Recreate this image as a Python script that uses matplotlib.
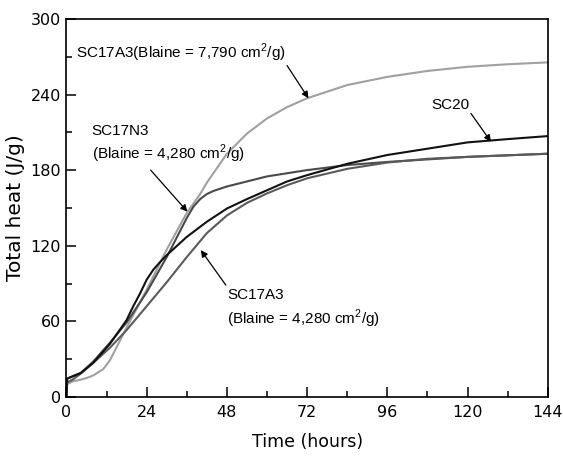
import numpy as np
import matplotlib.pyplot as plt
from matplotlib.ticker import MultipleLocator

# values (hours, J/g)
t_a7790 = [0, 0.2, 2, 4, 6, 8, 11, 13, 18, 24, 30, 36, 40, 42, 48, 54, 60, 66, 72, 84, 96, 108, 120, 132, 144]
q_a7790 = [0, 10, 12.5, 13.5, 15, 17, 22, 29, 55, 85, 117, 146, 161, 170, 193, 209, 221, 230, 237, 247.5, 254, 258.7, 262, 264, 265.5]

t_n3 = [0, 0.2, 2, 4.3, 8, 13, 18, 24, 30, 36, 38, 40, 42, 44, 48, 54, 60, 66, 72, 84, 96, 120, 144]
q_n3 = [0, 14.5, 16.5, 19, 28, 43, 59, 83, 111, 142, 151, 157, 161, 163.5, 167, 171, 175, 177.5, 180, 184, 186.5, 190.5, 193]

t_sc20 = [0, 0.2, 2, 4.3, 8, 13, 18, 20, 22, 24, 26, 28, 30, 36, 42, 48, 54, 60, 66, 72, 84, 96, 108, 120, 132, 144]
q_sc20 = [0, 14.5, 16.5, 19, 27, 42, 61, 72, 82, 93, 101, 107, 112.5, 127, 139, 149.5, 157, 164, 171, 176, 185, 192, 197, 202, 204.6, 207]

t_a4280 = [0, 0.2, 2, 4.3, 8, 13, 18, 24, 30, 36, 42, 48, 54, 60, 66, 72, 84, 96, 108, 120, 144]
q_a4280 = [0, 11.5, 14, 18.5, 27, 39, 53, 72, 91, 111, 130, 144, 154, 161.5, 168, 173.5, 181, 186, 189, 190.5, 193]

x_ticks = [0, 24, 48, 72, 96, 120, 144]
y_ticks = [0, 60, 120, 180, 240, 300]

plt.rcParams['font.family'] = ['DejaVu Sans']
plt.rcParams['mathtext.fontset'] = 'custom'
plt.rcParams['mathtext.rm'] = 'Liberation Sans'

fig = plt.figure(figsize=(5.63, 4.61), dpi=100)
ax = fig.add_axes([0.118, 0.139, 0.855, 0.82])

ax.plot(t_a7790, q_a7790, color='#a0a0a0', lw=1.5)
ax.plot(t_n3, q_n3, color='#4a4a4a', lw=1.5)
ax.plot(t_a4280, q_a4280, color='#5a5a5a', lw=1.5)
ax.plot(t_sc20, q_sc20, color='#111111', lw=1.5)

ax.set_xlim(0, 144)
ax.set_ylim(0, 300)
ax.set_xticks(x_ticks)
ax.set_yticks(y_ticks)
ax.xaxis.set_minor_locator(MultipleLocator(12))
ax.yaxis.set_minor_locator(MultipleLocator(30))
ax.tick_params(which='major', direction='in', length=7, width=1.1, labelsize=11.5)
ax.tick_params(axis='x', which='major', pad=6)
ax.tick_params(axis='y', which='major', pad=4)
ax.tick_params(which='minor', direction='in', length=4, width=1.1)
for s in ax.spines.values():
    s.set_linewidth(1.2)

ax.set_xlabel('Time (hours)', fontsize=12.5, labelpad=9)
ax.set_ylabel('Total heat (J/g)', fontsize=14.5, labelpad=4)

ann = dict(family='Liberation Sans', fontsize=11)
arr = dict(arrowstyle='-|>', color='black', lw=0.9, mutation_scale=10, shrinkA=0, shrinkB=0)

ax.text(3.0, 272.7, 'SC17A3(Blaine = 7,790 cm$^2$/g)', ha='left', va='center', **ann)
ax.annotate('', xy=(72.4, 237), xytext=(66, 263), arrowprops=arr)

ax.text(115, 232, 'SC20', ha='center', va='center', **ann)
ax.annotate('', xy=(127, 202.5), xytext=(121, 225), arrowprops=arr)

ax.text(7.5, 211, 'SC17N3', ha='left', va='center', **ann)
ax.text(7.5, 193, '(Blaine = 4,280 cm$^2$/g)', ha='left', va='center', **ann)
ax.annotate('', xy=(36.2, 147), xytext=(25.2, 180), arrowprops=arr)

ax.text(48, 80.7, 'SC17A3', ha='left', va='center', **ann)
ax.text(48, 62, '(Blaine = 4,280 cm$^2$/g)', ha='left', va='center', **ann)
ax.annotate('', xy=(40.2, 116.5), xytext=(47.7, 88.7), arrowprops=arr)

fig.savefig('out.png', dpi=100)
